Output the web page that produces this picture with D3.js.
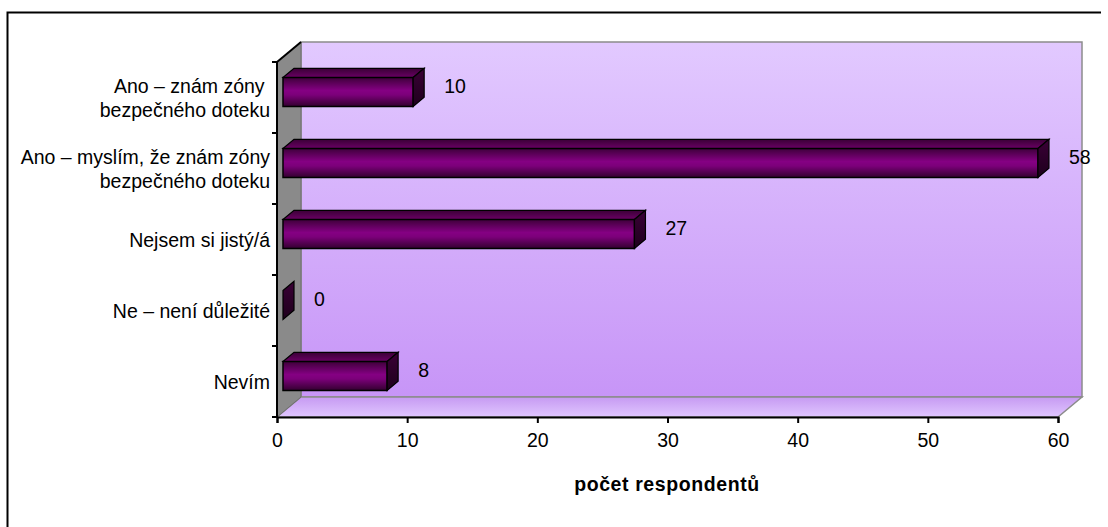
<!DOCTYPE html>
<html>
<head>
<meta charset="utf-8">
<script src="https://cdn.jsdelivr.net/npm/d3@7"></script>
<style>
  body { margin: 0; background: #fff; }
  text { font-family: "Liberation Sans", Arial, sans-serif; fill: #000; }
</style>
</head>
<body>
<svg id="chart" width="1108" height="527"></svg>
<script>
// data
const categories = [
  'Ano – znám zóny |bezpečného doteku',
  'Ano – myslím, že znám zóny|bezpečného doteku',
  'Nejsem si jistý/á',
  'Ne – není důležité',
  'Nevím'
];
const values = [10, 58, 27, 0, 8];
const xTicks = [0, 10, 20, 30, 40, 50, 60];
const axisTitle = 'počet respondentů';

const fontSize = '19.5px';
const svg = d3.select('#chart');

// outer frame
svg.append('path')
  .attr('d', 'M7.5,527 L7.5,12.5 L1101,12.5')
  .attr('fill', 'none')
  .attr('stroke', '#000')
  .attr('stroke-width', 2);

const x = d3.scaleLinear().domain([0, 60]).range([277, 1058]);
const y = d3.scaleBand().domain(categories).range([62, 417]);

// depth of the 3d walls and the bars
const wallDx = 24, wallDy = -20;
const barZ0 = 6, barZ1 = 17; // depth range of the bars in px

const defs = svg.append('defs');

function vgrad(id, stops) {
  const g = defs.append('linearGradient').attr('id', id)
    .attr('x1', 0).attr('y1', 0).attr('x2', 0).attr('y2', 1);
  stops.forEach(s => g.append('stop').attr('offset', s[0]).attr('stop-color', s[1]));
}
vgrad('wallGrad', [[0, '#e2c9ff'], [1, '#c795f7']]);
vgrad('floorGrad', [[0, '#c69af2'], [1, '#e0c6ff']]);
vgrad('frontGrad', [[0, '#3e003a'], [0.45, '#850083'], [0.6, '#7c007a'], [1, '#33002f']]);
vgrad('topGrad', [[0, '#3a0036'], [1, '#6a0064']]);
vgrad('sideGrad', [[0, '#3a0036'], [1, '#1e001c']]);

const x0 = x(0), x1 = x(60);
const yTop = y.range()[0], yBot = y.range()[1];

// back wall
svg.append('rect')
  .attr('x', x0 + wallDx).attr('y', yTop + wallDy)
  .attr('width', x1 - x0).attr('height', yBot - yTop)
  .attr('fill', 'url(#wallGrad)')
  .attr('stroke', '#8c8c8c').attr('stroke-width', 1.5);

// floor
svg.append('path')
  .attr('d', `M${x0},${yBot} L${x0 + wallDx},${yBot + wallDy} L${x1 + wallDx},${yBot + wallDy} L${x1},${yBot} Z`)
  .attr('fill', 'url(#floorGrad)')
  .attr('stroke', '#8c8c8c').attr('stroke-width', 1.5);

// left wall
svg.append('path')
  .attr('d', `M${x0},${yTop} L${x0 + wallDx},${yTop + wallDy} L${x0 + wallDx},${yBot + wallDy} L${x0},${yBot} Z`)
  .attr('fill', '#8a8a8a')
  .attr('stroke', '#6e6e6e').attr('stroke-width', 1);
svg.append('line')
  .attr('x1', x0).attr('y1', yTop).attr('x2', x0 + wallDx).attr('y2', yTop + wallDy)
  .attr('stroke', '#000').attr('stroke-width', 2);

// bars
const k = wallDy / wallDx;
const barH = 29;
const bars = svg.append('g').selectAll('g').data(values).enter().append('g');

bars.each(function(v, i) {
  const g = d3.select(this);
  const c = y(categories[i]) + y.bandwidth() / 2;
  const fx0 = x(0) + barZ0, fx1 = x(v) + barZ0;
  const fy0 = c - 20, fy1 = fy0 + barH;
  const dx = barZ1 - barZ0, dy = dx * k;
  if (v > 0) {
    // top face
    g.append('path')
      .attr('d', `M${fx0},${fy0} L${fx0 + dx},${fy0 + dy} L${fx1 + dx},${fy0 + dy} L${fx1},${fy0} Z`)
      .attr('fill', 'url(#topGrad)')
      .attr('stroke', '#000').attr('stroke-width', 1.2);
    // front face
    g.append('rect')
      .attr('x', fx0).attr('y', fy0)
      .attr('width', fx1 - fx0).attr('height', barH)
      .attr('fill', 'url(#frontGrad)')
      .attr('stroke', '#000').attr('stroke-width', 1.5);
  }
  // side face
  g.append('path')
    .attr('d', `M${fx1},${fy0} L${fx1 + dx},${fy0 + dy} L${fx1 + dx},${fy1 + dy} L${fx1},${fy1} Z`)
    .attr('fill', 'url(#sideGrad)')
    .attr('stroke', '#000').attr('stroke-width', 1.2);
  // value label
  g.append('text')
    .attr('x', x(v) + 37).attr('y', c - 11)
    .attr('dy', '0.35em')
    .style('font-size', fontSize)
    .text(v);
});

// y axis
svg.append('line')
  .attr('x1', x0).attr('y1', yTop).attr('x2', x0).attr('y2', yBot)
  .attr('stroke', '#000').attr('stroke-width', 2);
const yTicks = categories.map(d => y(d)).concat([yBot]);
svg.append('g').selectAll('line').data(yTicks).enter().append('line')
  .attr('x1', x0 - 5).attr('x2', x0).attr('y1', d => d).attr('y2', d => d)
  .attr('stroke', '#000').attr('stroke-width', 2);

// x axis
const xAxis = svg.append('g')
  .attr('transform', `translate(0,${yBot})`)
  .call(d3.axisBottom(x).tickValues(xTicks).tickSize(6).tickPadding(10));
xAxis.select('.domain').attr('stroke', '#000').attr('stroke-width', 2);
xAxis.selectAll('.tick line').attr('stroke', '#000').attr('stroke-width', 2);
xAxis.selectAll('.tick text')
  .style('font-family', '"Liberation Sans", Arial, sans-serif')
  .style('font-size', fontSize)
  .attr('fill', '#000');

// category labels
const lab = svg.append('g').selectAll('text').data(categories).enter().append('text')
  .attr('text-anchor', 'end')
  .style('font-size', fontSize)
  .attr('y', d => y(d) + y.bandwidth() / 2);
lab.each(function(d) {
  const lines = d.split('|');
  const t = d3.select(this);
  const lh = 24;
  lines.forEach((s, j) => {
    t.append('tspan')
      .attr('x', 270)
      .attr('dy', j === 0 ? `${(-(lines.length - 1) * lh / 2) + 7}px` : `${lh}px`)
      .attr('xml:space', 'preserve')
      .text(s);
  });
});

// axis title
svg.append('text')
  .attr('x', 667).attr('y', 491)
  .attr('text-anchor', 'middle')
  .style('font-size', fontSize)
  .style('font-weight', 'bold')
  .style('letter-spacing', '0.6px')
  .text(axisTitle);
</script>
</body>
</html>
